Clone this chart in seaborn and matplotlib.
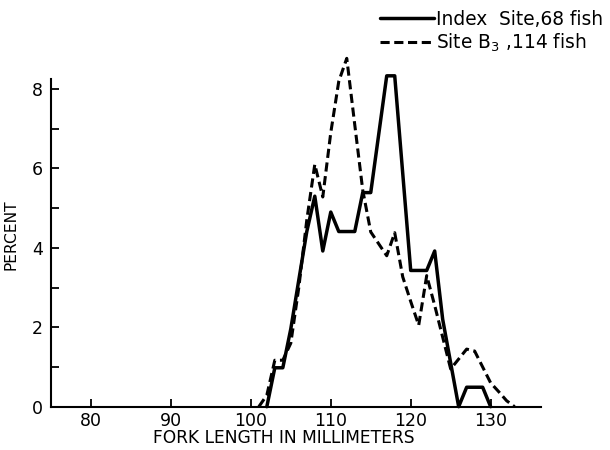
import numpy as np
import pandas as pd
import matplotlib
matplotlib.use("Agg")
import matplotlib.pyplot as plt
from matplotlib.ticker import MultipleLocator
import seaborn as sns

# ---- data ----
index_len = list(range(102, 131))
index_pct = [0, 0.98, 0.98, 1.96, 3.19, 4.41, 5.3, 3.92, 4.9, 4.41, 4.41, 4.41,
             5.39, 5.39, 6.86, 8.33, 8.33, 5.88, 3.43, 3.43, 3.43, 3.92, 2.2,
             1.1, 0, 0.49, 0.49, 0.49, 0]
b3_len = list(range(101, 134))
b3_pct = [0, 0.29, 1.17, 1.17, 1.6, 3.0, 4.7, 6.1, 5.28, 6.9, 8.19, 8.77, 7.1,
          5.45, 4.4, 4.1, 3.8, 4.38, 3.27, 2.65, 2.05, 3.3, 2.55, 1.75, 0.95,
          1.2, 1.45, 1.4, 1.0, 0.6, 0.38, 0.15, 0]
labels = ["Index  Site,68 fish", "Site $\\mathregular{B_3}$ ,114 fish"]
x_ticks = [80, 90, 100, 110, 120, 130]
y_ticks = [0, 2, 4, 6, 8]

df = pd.concat([
    pd.DataFrame({"length": index_len, "pct": index_pct, "site": labels[0]}),
    pd.DataFrame({"length": b3_len, "pct": b3_pct, "site": labels[1]}),
])

sns.set_style("ticks")
plt.rcParams["font.family"] = ["DejaVu Sans"]
plt.rcParams["text.color"] = "black"
plt.rcParams["axes.labelcolor"] = "black"

fig = plt.figure(figsize=(6.1, 4.5), dpi=100)
ax = fig.add_axes([51 / 610, 1 - 406.7 / 450, (541 - 51) / 610, (406.7 - 79) / 450])

sns.lineplot(data=df, x="length", y="pct", hue="site", style="site",
             palette={labels[0]: "black", labels[1]: "black"},
             dashes={labels[0]: "", labels[1]: (3.0, 1.5)},
             legend=False, ax=ax, sort=False, estimator=None)
lines = ax.get_lines()
lines[0].set_linewidth(2.5)
lines[1].set_linewidth(2.2)
for ln in lines:
    ln.set_clip_on(False)

ax.set_xlim(75, 136.3)
ax.set_ylim(0, 8.25)
ax.set_xticks(x_ticks)
ax.set_yticks(y_ticks)
ax.yaxis.set_minor_locator(MultipleLocator(1))
ax.tick_params(axis="both", which="both", direction="in", width=1.3,
               length=5.5, labelsize=12.5, color="black", labelcolor="black")
ax.tick_params(axis="y", pad=6)
ax.tick_params(axis="x", pad=3.5)
for s in ["top", "right"]:
    ax.spines[s].set_visible(False)
for s in ["left", "bottom"]:
    ax.spines[s].set_linewidth(1.5)
    ax.spines[s].set_color("black")

ax.set_xlabel("FORK LENGTH IN MILLIMETERS", fontsize=12.3)
ax.set_ylabel("PERCENT", fontsize=11.2)
ax.xaxis.set_label_coords(0.4755, -0.068)
ax.yaxis.set_label_coords(-0.066, 0.524)

fig.legend(handles=lines[:2], labels=labels, loc="upper left",
           bbox_to_anchor=(380 / 610, 1 - 10 / 450), frameon=False,
           fontsize=13.4, handlelength=2.9, handletextpad=0.1,
           labelspacing=0.15, borderpad=0, borderaxespad=0)

fig.savefig("out.png", dpi=100)
